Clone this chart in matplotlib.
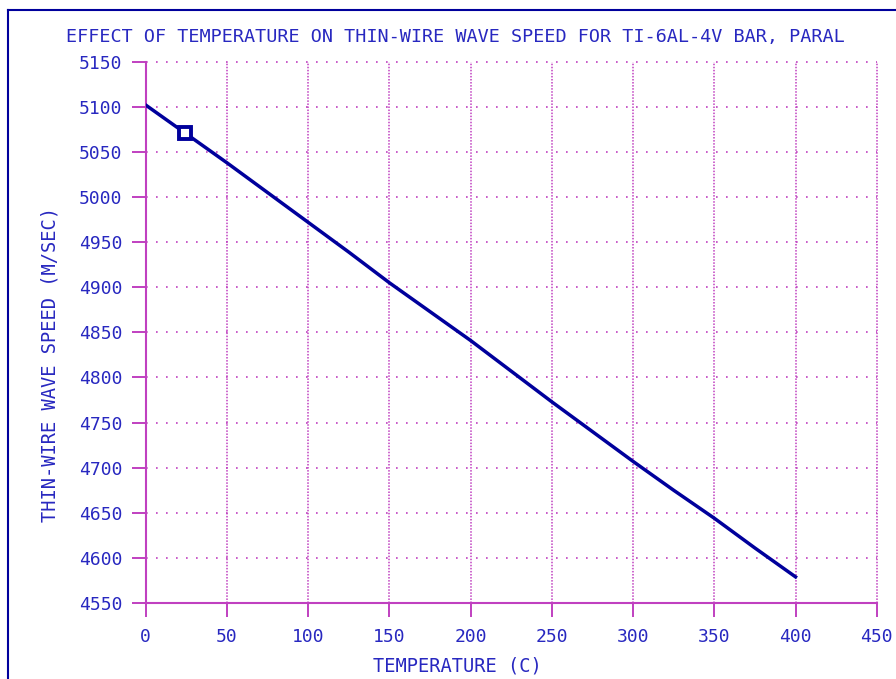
import matplotlib
matplotlib.use("Agg")
import matplotlib.pyplot as plt
from matplotlib.lines import Line2D

# values
temperature = [0, 25, 50, 75, 100, 125, 150, 175, 200, 225, 250, 275, 300, 325, 350, 375, 400]
wave_speed = [5102, 5070, 5038, 5005, 4972, 4939, 4905, 4873, 4841, 4807, 4773, 4740, 4707,
              4675, 4644, 4611, 4579]
measured_temp = [24]
measured_speed = [5071]
x_ticks = list(range(0, 451, 50))
y_ticks = list(range(4550, 5151, 50))

title = "EFFECT OF TEMPERATURE ON THIN-WIRE WAVE SPEED FOR TI-6AL-4V BAR, PARAL"
x_label = "TEMPERATURE (C)"
y_label = "THIN-WIRE WAVE SPEED (M/SEC)"

text_col = "#2828c0"
axis_col = "#c040c0"
line_col = "#00009c"
font = "DejaVu Sans Mono"
fs = 13

fig = plt.figure(figsize=(8.96, 6.79), dpi=100)
ax = fig.add_axes([0.1626, 0.1119, 0.8159, 0.7972])

ax.plot(temperature, wave_speed, color=line_col, lw=2.5, zorder=3)
ax.plot(measured_temp, measured_speed, ls="none", marker="s", ms=8, mew=2.8,
        mfc="white", mec=line_col, zorder=4)

ax.set_xlim(0, 450)
ax.set_ylim(4550, 5150)
ax.set_xticks(x_ticks)
ax.set_yticks(y_ticks)
ax.set_xticklabels([str(v) for v in x_ticks], fontfamily=font, fontsize=fs, color=text_col)
ax.set_yticklabels([str(v) for v in y_ticks], fontfamily=font, fontsize=fs, color=text_col)
ax.tick_params(axis="both", direction="out", length=10, width=1.4, color=axis_col)
ax.tick_params(axis="x", pad=8)
ax.tick_params(axis="y", pad=7)

for s in ["top", "right"]:
    ax.spines[s].set_visible(False)
for s in ["left", "bottom"]:
    ax.spines[s].set_color(axis_col)
    ax.spines[s].set_linewidth(1.5)

# dotted grid: sparse horizontal dots, dense vertical dots
for y in y_ticks[1:]:
    ax.axhline(y, color=axis_col, lw=1.2, ls=(0, (1, 5)), zorder=1, clip_on=False)
for x in x_ticks[1:]:
    ax.axvline(x, color=axis_col, lw=1.1, ls=(0, (1, 1)), zorder=1, clip_on=False)

fig.text(455.5 / 896, 1 - 37 / 679, title, ha="center", va="center",
         fontfamily=font, fontsize=13.3, color=text_col)
fig.text(457 / 896, 1 - 666 / 679, x_label, ha="center", va="center",
         fontfamily=font, fontsize=13.5, color=text_col)
fig.text(50 / 896, 1 - 364 / 679, y_label, ha="center", va="center", rotation=90,
         fontfamily=font, fontsize=13.5, color=text_col)

# window border on the top and left edges
fig.add_artist(Line2D([7.5 / 896, 7.5 / 896], [0, 1 - 9.5 / 679], color=line_col, lw=1.5))
fig.add_artist(Line2D([7.5 / 896, 1], [1 - 9.5 / 679, 1 - 9.5 / 679], color=line_col, lw=1.5))

fig.savefig("out.png", dpi=100)
